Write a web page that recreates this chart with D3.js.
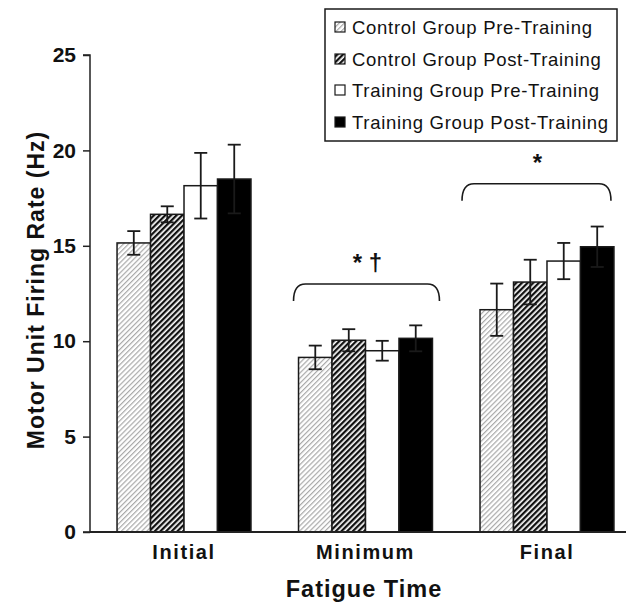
<!DOCTYPE html>
<html>
<head>
<meta charset="utf-8">
<script src="https://cdn.jsdelivr.net/npm/d3@7"></script>
<style>
  html, body { margin: 0; padding: 0; background: #fff; }
  svg { display: block; font-family: "Liberation Sans", Arial, sans-serif; }
</style>
</head>
<body>
<svg id="chart" width="636" height="603"></svg>
<script>
// ---- Data ----
const categories = ["Initial", "Minimum", "Final"];
const seriesNames = [
  "Control Group Pre-Training",
  "Control Group Post-Training",
  "Training Group Pre-Training",
  "Training Group Post-Training"
];
// mean values per series, in category order
const controlPre   = [15.15, 9.15, 11.65];
const controlPost  = [16.65, 10.05, 13.1];
const trainingPre  = [18.15, 9.5, 14.2];
const trainingPost = [18.5, 10.15, 14.95];
// error (SE) per series
const controlPreErr   = [0.62, 0.62, 1.37];
const controlPostErr  = [0.42, 0.58, 1.17];
const trainingPreErr  = [1.72, 0.52, 0.95];
const trainingPostErr = [1.8, 0.68, 1.06];
const yTicks = [0, 5, 10, 15, 20, 25];
// significance annotations
const sigCategories = ["Minimum", "Final"];
const sigLevels = [13.0, 18.25];
const sigLabels = ["* \u2020", "*"];

const seriesValues = [controlPre, controlPost, trainingPre, trainingPost];
const seriesErrs = [controlPreErr, controlPostErr, trainingPreErr, trainingPostErr];

// ---- Layout ----
const svg = d3.select("#chart");
const x0 = 90, yBottom = 532, yTop = 55;

const defs = svg.append("defs");
const light = defs.append("pattern").attr("id", "hatchLight")
  .attr("patternUnits", "userSpaceOnUse").attr("width", 3.6).attr("height", 10)
  .attr("patternTransform", "rotate(45)");
light.append("rect").attr("width", 3.6).attr("height", 10).attr("fill", "#fff");
light.append("rect").attr("x", 0).attr("width", 1.2).attr("height", 10).attr("fill", "#a8a8a8");

const dark = defs.append("pattern").attr("id", "hatchDark")
  .attr("patternUnits", "userSpaceOnUse").attr("width", 4).attr("height", 10)
  .attr("patternTransform", "rotate(45)");
dark.append("rect").attr("width", 4).attr("height", 10).attr("fill", "#fff");
dark.append("rect").attr("x", 0).attr("width", 2.3).attr("height", 10).attr("fill", "#111");

const fills = ["url(#hatchLight)", "url(#hatchDark)", "#ffffff", "#000000"];

const x = d3.scaleBand().domain(categories).range([x0, 641])
  .paddingInner(0.262).paddingOuter(0.149);
const xs = d3.scaleBand().domain(seriesNames).range([0, x.bandwidth()]);
const y = d3.scaleLinear().domain([0, 25]).range([yBottom, yTop]);

// Bars
const rows = [];
categories.forEach((c, ci) => {
  seriesNames.forEach((s, si) => {
    rows.push({ cat: c, series: s, si, v: seriesValues[si][ci], e: seriesErrs[si][ci] });
  });
});

const g = svg.append("g");
g.selectAll("rect.bar").data(rows).join("rect")
  .attr("class", "bar")
  .attr("x", d => x(d.cat) + xs(d.series))
  .attr("y", d => y(d.v))
  .attr("width", xs.bandwidth())
  .attr("height", d => y(0) - y(d.v))
  .attr("fill", d => fills[d.si])
  .attr("stroke", "#1a1a1a")
  .attr("stroke-width", 1.5);

// Error bars
const capW = 6.5;
const cx = d => x(d.cat) + xs(d.series) + xs.bandwidth() / 2;
const eb = g.selectAll("g.err").data(rows).join("g").attr("class", "err")
  .attr("stroke", "#1a1a1a").attr("stroke-width", 1.8);
eb.append("line").attr("x1", cx).attr("x2", cx)
  .attr("y1", d => y(d.v - d.e)).attr("y2", d => y(d.v + d.e));
eb.append("line").attr("x1", d => cx(d) - capW).attr("x2", d => cx(d) + capW)
  .attr("y1", d => y(d.v + d.e)).attr("y2", d => y(d.v + d.e));
eb.append("line").attr("x1", d => cx(d) - capW).attr("x2", d => cx(d) + capW)
  .attr("y1", d => y(d.v - d.e)).attr("y2", d => y(d.v - d.e));

// Y axis
const yAxis = svg.append("g").attr("transform", `translate(${x0},0)`)
  .call(d3.axisLeft(y).tickValues(yTicks).tickSize(7).tickPadding(7).tickFormat(d3.format("d")));
yAxis.select(".domain").attr("stroke", "#222").attr("stroke-width", 1.5).attr("d", `M-7,${yTop}H0V${yBottom}H-7`);
yAxis.selectAll(".tick line").attr("stroke", "#222").attr("stroke-width", 1.5);
yAxis.selectAll(".tick text").attr("font-size", 21).attr("font-weight", "bold")
  .attr("fill", "#111").attr("font-family", "Liberation Sans, Arial, sans-serif");

// X axis
const xAxis = svg.append("g").attr("transform", `translate(0,${yBottom})`)
  .call(d3.axisBottom(x).tickSize(0).tickPadding(13));
xAxis.select(".domain").attr("stroke", "#222").attr("stroke-width", 1.8).attr("d", `M${x0},0H626`);
xAxis.selectAll(".tick text").attr("font-size", 20).attr("font-weight", "bold")
  .attr("fill", "#111").style("letter-spacing", "1.6px").attr("font-family", "Liberation Sans, Arial, sans-serif");

// Axis titles
svg.append("text").attr("x", 364).attr("y", 597).attr("text-anchor", "middle")
  .attr("font-size", 23.5).attr("font-weight", "bold").style("letter-spacing", "1px")
  .attr("fill", "#111").text("Fatigue Time");
svg.append("text").attr("transform", "translate(44,290) rotate(-90)").attr("text-anchor", "middle")
  .attr("font-size", 23).attr("font-weight", "bold").style("letter-spacing", "1px")
  .attr("fill", "#111").text("Motor Unit Firing Rate (Hz)");

// Significance braces
const braceAdj = { Minimum: [-5, 7], Final: [-18, -3] };
const drop = 17, r = 12;
sigCategories.forEach((c, i) => {
  const xa = x(c) + braceAdj[c][0];
  const xb = x(c) + x.bandwidth() + braceAdj[c][1];
  const yl = y(sigLevels[i]);
  const p = `M${xa},${yl + drop} Q${xa},${yl} ${xa + r},${yl} L${xb - r},${yl} Q${xb},${yl} ${xb},${yl + drop}`;
  svg.append("path").attr("d", p).attr("fill", "none").attr("stroke", "#1a1a1a").attr("stroke-width", 1.6);
  svg.append("text").attr("x", (xa + xb) / 2 + 1).attr("y", yl - 13).attr("text-anchor", "middle")
    .attr("font-size", 24).attr("font-weight", "bold").attr("fill", "#111").text(sigLabels[i]);
});

// Legend
const lg = svg.append("g");
lg.append("rect").attr("x", 325).attr("y", 9).attr("width", 292).attr("height", 132)
  .attr("fill", "#fff").attr("stroke", "#1a1a1a").attr("stroke-width", 1.5);
const rowY = [27, 59, 90, 122];
seriesNames.forEach((s, i) => {
  lg.append("rect").attr("x", 335).attr("y", rowY[i] - 5).attr("width", 10).attr("height", 10)
    .attr("fill", fills[i]).attr("stroke", "#1a1a1a").attr("stroke-width", 1.2);
  lg.append("text").attr("x", 352).attr("y", rowY[i]).attr("dy", "0.36em")
    .attr("font-size", 18.5).style("letter-spacing", "0.7px").attr("fill", "#111").text(s);
});
</script>
</body>
</html>
